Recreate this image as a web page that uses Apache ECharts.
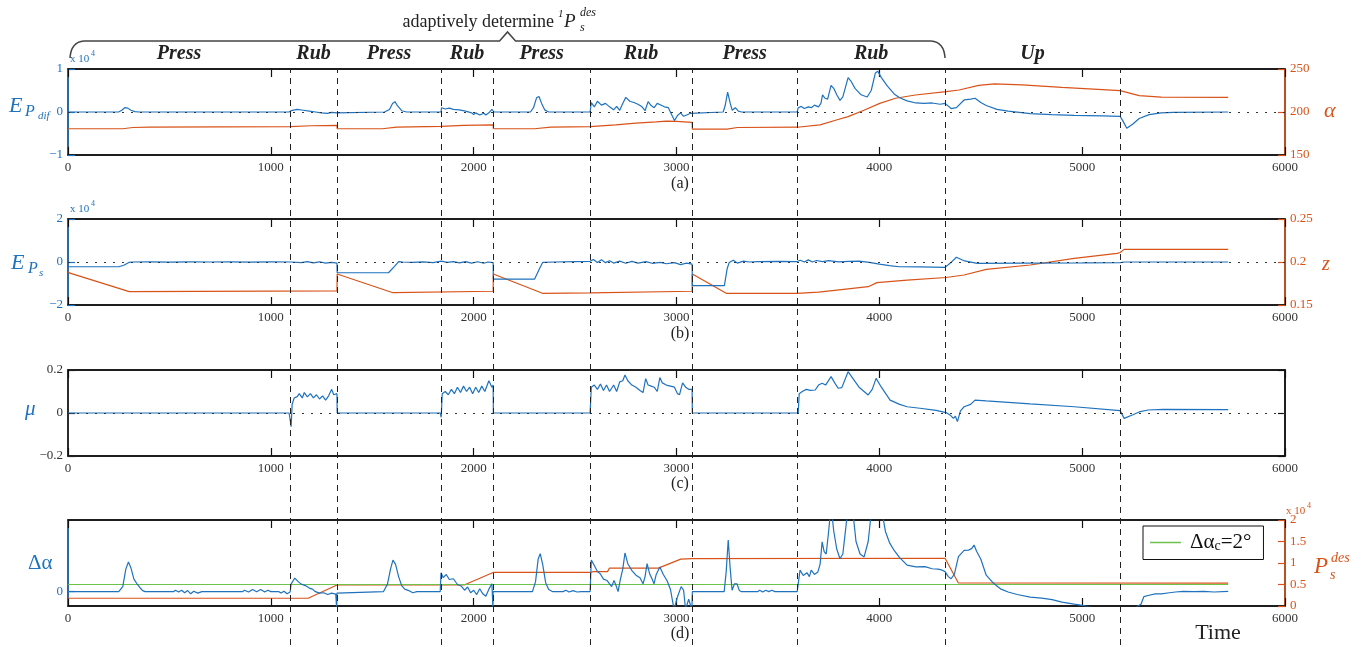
<!DOCTYPE html>
<html>
<head>
<meta charset="utf-8">
<title>Press / Rub / Up</title>
<script src="https://cdn.jsdelivr.net/npm/echarts@6/dist/echarts.min.js"></script>
<style>
  html, body { margin: 0; padding: 0; background: #fff; }
  #main { width: 1366px; height: 647px; }
</style>
</head>
<body>
<div id="main"></div>
<script>
var BLUE = '#1F72BD', ORANGE = '#D95319', GREEN = '#6CC24A';
var SERIF = '"Liberation Serif", "Times New Roman", serif';

// phase boundaries (time) and names
var boundaries = [1095, 1326, 1839, 2096, 2574, 3077, 3595, 4324, 5187];
var phases = ['Press', 'Rub', 'Press', 'Rub', 'Press', 'Rub', 'Press', 'Rub', 'Up'];

// (a) E_Pdif (x10^4) and alpha
var ePdif = [[0,0],[250,0],[265,0.04],[280,0.1],[295,0.09],[310,0.04],[330,0.01],[350,0],[1090,0],[1100,0.03],[1130,0.06],[1160,0.04],[1190,0.02],[1220,0],[1250,-0.02],[1280,-0.03],[1300,-0.01],[1326,-0.02],[1330,0],[1560,0],[1585,0.06],[1600,0.2],[1612,0.24],[1625,0.14],[1645,0.03],[1670,0],[1839,0],[1842,0.1],[1860,0.07],[1880,0.09],[1900,0.06],[1930,0.05],[1960,0.02],[1990,-0.02],[2000,-0.06],[2010,-0.02],[2030,-0.07],[2050,-0.03],[2060,-0.07],[2075,-0.02],[2090,0.06],[2096,0.04],[2100,0],[2280,0],[2295,0.1],[2310,0.33],[2322,0.36],[2335,0.2],[2350,0.05],[2370,0],[2574,0],[2580,0.22],[2595,0.12],[2610,0.25],[2630,0.16],[2650,0.2],[2670,0.12],[2690,0.05],[2705,0.13],[2720,0.04],[2735,0.2],[2750,0.34],[2770,0.25],[2790,0.22],[2810,0.18],[2830,0.12],[2845,0.03],[2860,0.24],[2875,0.15],[2890,0.1],[2905,0.2],[2920,0.17],[2940,0.12],[2960,0.1],[2975,-0.05],[2990,-0.2],[3005,-0.08],[3020,-0.02],[3035,-0.1],[3050,-0.07],[3070,-0.03],[3077,0],[3230,0],[3240,0.15],[3252,0.46],[3265,0.2],[3275,0.04],[3290,0.1],[3305,0.02],[3320,0],[3595,0],[3600,0.1],[3615,0.13],[3630,0.08],[3650,0.12],[3665,0.1],[3680,0.16],[3700,0.12],[3712,0.2],[3720,0.4],[3732,0.32],[3745,0.3],[3762,0.62],[3775,0.55],[3790,0.4],[3806,0.27],[3820,0.35],[3846,0.8],[3860,0.72],[3880,0.55],[3910,0.4],[3940,0.35],[3960,0.5],[3980,0.9],[3992,0.95],[4010,0.8],[4040,0.6],[4073,0.42],[4100,0.33],[4137,0.26],[4180,0.21],[4220,0.2],[4260,0.21],[4300,0.18],[4324,0.2],[4354,0.08],[4380,0.1],[4418,0.28],[4450,0.3],[4472,0.32],[4500,0.22],[4527,0.15],[4580,0.06],[4635,0.02],[4744,-0.04],[4850,-0.06],[4961,-0.08],[5100,-0.09],[5187,-0.1],[5200,-0.2],[5220,-0.38],[5250,-0.28],[5281,-0.15],[5330,-0.06],[5390,-0.02],[5450,-0.01],[5720,0]];
var alpha = [[0,180.5],[270,180.5],[320,182],[400,182.5],[1095,183],[1200,184],[1326,184.5],[1327,180.5],[1550,180.5],[1620,182.5],[1839,183.2],[1950,184.5],[2096,185],[2097,180.5],[2300,180.5],[2380,182.5],[2574,183],[2700,185],[2800,187],[2900,188.5],[2950,189.5],[3000,189],[3077,188],[3078,180],[3250,180],[3300,182],[3595,182.3],[3708,185],[3788,190.7],[3846,194.6],[3924,202],[4002,210],[4080,216],[4178,219.8],[4329,223.6],[4393,225.6],[4490,231],[4567,232.6],[4704,231.5],[4900,228.7],[5100,226],[5187,224.8],[5281,219],[5390,217.4],[5720,217]];

// (b) E_Ps (x10^4) and z
var ePs = [[0,-0.22],[250,-0.22],[275,-0.15],[300,-0.02],[320,0],[400,0.01],[500,-0.01],[600,0.01],[700,0],[800,0.01],[900,-0.01],[1000,0.01],[1100,0],[1150,-0.03],[1180,0.02],[1210,-0.04],[1240,0.01],[1270,-0.05],[1300,-0.02],[1326,-0.05],[1327,-0.5],[1580,-0.5],[1610,-0.2],[1630,0.02],[1650,0],[1700,-0.02],[1750,0.01],[1800,-0.03],[1840,0.04],[1870,-0.02],[1900,0.02],[1930,-0.04],[1960,0.02],[1990,-0.05],[2020,0.01],[2050,-0.06],[2070,0],[2096,-0.03],[2097,-0.8],[2300,-0.8],[2325,-0.3],[2340,-0.02],[2400,0],[2500,0.02],[2574,0.03],[2590,0.12],[2610,-0.02],[2630,0.1],[2650,-0.03],[2670,0.06],[2690,-0.05],[2720,0.04],[2750,-0.06],[2780,0.03],[2810,-0.05],[2850,0.02],[2880,-0.06],[2920,-0.02],[2950,-0.08],[2990,-0.03],[3020,-0.12],[3050,-0.05],[3077,-0.1],[3078,-1.1],[3236,-1.1],[3250,-0.3],[3260,-0.02],[3280,0.08],[3300,-0.05],[3330,0.04],[3360,0],[3400,0.02],[3500,0.03],[3595,0.02],[3610,0.08],[3630,0],[3650,0.1],[3670,0],[3690,0.07],[3720,0.02],[3750,0.06],[3800,0.01],[3850,0.03],[3900,0.04],[3950,-0.02],[4000,-0.1],[4050,-0.17],[4098,-0.22],[4200,-0.23],[4324,-0.25],[4350,-0.05],[4380,0.22],[4420,0.05],[4483,-0.06],[4700,-0.05],[5000,-0.04],[5187,-0.03],[5210,0],[5720,0]];
var zPos = [[0,0.1887],[10,0.187],[302,0.1655],[1326,0.1665],[1327,0.186],[1602,0.1643],[2096,0.166],[2097,0.186],[2339,0.1636],[2574,0.164],[3077,0.166],[3078,0.186],[3245,0.1636],[3595,0.1636],[3700,0.165],[3791,0.1674],[3945,0.1713],[3988,0.176],[4137,0.179],[4329,0.182],[4418,0.1849],[4527,0.1915],[4744,0.1965],[4961,0.2043],[5173,0.21],[5187,0.211],[5207,0.2147],[5720,0.2147]];

// (c) mu
var mu = [[0,0],[1090,0],[1095,-0.03],[1100,-0.064],[1105,0.04],[1115,0.07],[1130,0.076],[1140,0.09],[1155,0.07],[1165,0.095],[1180,0.075],[1195,0.09],[1210,0.07],[1225,0.085],[1240,0.065],[1255,0.08],[1270,0.06],[1285,0.08],[1300,0.11],[1310,0.085],[1326,0.09],[1327,0],[1835,0],[1840,-0.02],[1845,0.09],[1860,0.1],[1875,0.085],[1890,0.11],[1905,0.09],[1920,0.12],[1935,0.095],[1950,0.125],[1965,0.1],[1980,0.12],[1995,0.09],[2010,0.12],[2025,0.095],[2040,0.125],[2055,0.1],[2075,0.15],[2090,0.12],[2096,0.13],[2097,0],[2574,0],[2580,0.12],[2595,0.13],[2610,0.11],[2625,0.135],[2640,0.105],[2655,0.13],[2670,0.1],[2690,0.13],[2705,0.1],[2720,0.145],[2735,0.15],[2746,0.177],[2760,0.15],[2780,0.13],[2800,0.12],[2820,0.105],[2835,0.095],[2848,0.16],[2860,0.13],[2875,0.125],[2890,0.12],[2905,0.1],[2918,0.165],[2930,0.14],[2950,0.13],[2970,0.125],[2990,0.12],[3005,0.09],[3015,0.085],[3030,0.14],[3045,0.12],[3060,0.11],[3077,0.11],[3078,0],[3600,0],[3605,0.09],[3620,0.1],[3640,0.11],[3660,0.105],[3684,0.107],[3700,0.13],[3718,0.138],[3735,0.13],[3762,0.169],[3780,0.14],[3797,0.115],[3815,0.118],[3846,0.192],[3870,0.16],[3900,0.12],[3945,0.084],[3965,0.11],[3984,0.161],[4010,0.12],[4053,0.06],[4100,0.04],[4137,0.029],[4200,0.022],[4280,0.012],[4329,0.002],[4350,-0.01],[4365,-0.025],[4375,-0.015],[4385,-0.04],[4400,0.01],[4418,0.029],[4450,0.04],[4472,0.06],[4527,0.056],[4744,0.042],[4961,0.029],[5187,0.011],[5207,-0.025],[5250,-0.008],[5281,0.005],[5325,0.014],[5400,0.017],[5720,0.016]];

// (d) delta alpha (deg), threshold, and P_s^des (x10^4)
var dAlpha = [[0,0],[250,0],[270,1.4],[285,6.3],[298,8.3],[310,6.7],[325,3.5],[340,2.2],[355,1.1],[368,0.3],[380,0],[520,0],[530,0.4],[545,-0.1],[560,0.4],[575,-0.3],[590,0.3],[605,-0.6],[620,0.1],[640,-0.4],[660,0],[860,0],[870,0.4],[890,-0.1],[910,0.6],[930,0],[950,0.6],[970,-0.1],[985,0.4],[1000,0],[1040,0],[1050,-0.4],[1065,0.1],[1080,-0.6],[1095,-0.1],[1100,2.1],[1118,3.8],[1135,2.8],[1150,2.1],[1170,1.7],[1190,1],[1205,0.7],[1220,0],[1240,-0.4],[1260,-0.3],[1280,-0.8],[1300,-0.4],[1320,-0.7],[1325,-5],[1326,-0.4],[1330,0],[1555,0],[1575,2.1],[1590,6.3],[1602,8.8],[1615,7.6],[1630,4.2],[1645,1.7],[1660,0.7],[1680,0.3],[1700,-0.3],[1720,0],[1835,0],[1839,5.3],[1850,3.9],[1865,4.8],[1880,3.4],[1900,3.6],[1920,2],[1940,1.5],[1955,0.4],[1970,1.3],[1985,-0.3],[2000,0.4],[2015,-0.8],[2030,0.8],[2045,-0.6],[2060,-1.3],[2075,0.7],[2090,2.2],[2095,-5],[2096,0],[2290,0],[2305,2.8],[2318,9.1],[2328,10.6],[2340,7.7],[2355,2.5],[2370,0.6],[2390,0],[2440,0],[2455,0.4],[2470,-0.1],[2490,0.3],[2510,-0.1],[2530,0],[2574,0],[2580,8.8],[2595,7.3],[2610,5.6],[2624,5],[2640,3.5],[2658,3.1],[2680,1.4],[2692,3.1],[2702,1.7],[2712,0],[2722,3.1],[2735,6.3],[2746,10.8],[2760,7.8],[2780,5.9],[2800,4.6],[2820,3.9],[2835,2.2],[2845,4.2],[2855,7.8],[2868,4.9],[2880,3.5],[2889,2.2],[2900,4.8],[2918,6.9],[2935,4.8],[2953,3.1],[2970,0.7],[2988,-5],[3005,-1.4],[3023,1.4],[3035,0.4],[3045,-5],[3060,-2.1],[3076,-5],[3078,0],[3235,0],[3245,5.6],[3255,14.4],[3264,7],[3274,0.4],[3286,2.2],[3298,2.2],[3310,0.3],[3320,0],[3400,0],[3410,0.4],[3425,-0.1],[3440,0.4],[3455,0],[3470,0.4],[3485,0],[3595,0],[3609,6],[3625,4.5],[3643,5.3],[3655,4.2],[3664,6],[3680,4.8],[3697,5.5],[3708,7.7],[3718,13.9],[3728,11.2],[3738,10.5],[3750,16.8],[3762,24],[3775,17],[3790,11.9],[3806,9.2],[3820,10.5],[3835,18],[3846,24],[3860,25],[3870,22],[3885,14],[3905,10.5],[3925,9.7],[3945,14],[3964,24],[3985,26],[4008,24],[4030,16.8],[4050,13.7],[4073,11.5],[4100,9.5],[4137,7.4],[4180,6.9],[4225,7],[4260,6.4],[4290,6.3],[4310,6],[4324,5.6],[4340,4.2],[4354,3.6],[4370,4.9],[4390,9.8],[4418,11.5],[4440,11.6],[4455,12],[4467,13],[4480,11.2],[4500,9.1],[4527,4.6],[4560,2.5],[4600,0.7],[4635,-0.1],[4680,-0.8],[4744,-1.5],[4800,-1.8],[4852,-2.2],[4900,-2.9],[4961,-3.5],[5000,-3.8],[5050,-4.5],[5260,-4.5],[5290,-3.5],[5304,-1.4],[5330,-1],[5360,-0.6],[5390,-0.6],[5430,-0.3],[5460,-0.1],[5498,0.1],[5550,0],[5600,0.1],[5650,-0.1],[5720,0.1]];
var dAlphaC = [[0,2],[5720,2]];
var psDes = [[0,0.18],[1184,0.18],[1326,0.49],[1953,0.49],[2096,0.78],[2574,0.78],[2590,0.8],[2660,0.8],[2669,0.88],[2911,0.88],[3021,1.09],[3077,1.1],[4324,1.11],[4389,0.54],[5720,0.53]];

var gridTops = [69, 219, 370, 520];
var LEGEND_NAME = '\u0394\u03b1c=2\u00b0';

function minus(v) {
    return String(v).replace('-', '\u2212');
}

function xAx(i, pos) {
    return {
        type: 'value', gridIndex: i, min: 0, max: 6000, interval: 1000, position: pos,
        axisLine: { show: true, onZero: false, lineStyle: { color: '#111', width: 1.5 } },
        axisTick: { show: true, inside: true, length: 8, lineStyle: { color: '#111', width: 1.2 } },
        axisLabel: { show: pos === 'bottom', margin: 6, fontFamily: SERIF, fontSize: 13, color: '#333',
            formatter: function (v) { return String(v); } },
        splitLine: { show: false }
    };
}

function yAx(i, pos, min, max, interval, color, showLabel) {
    return {
        type: 'value', gridIndex: i, position: pos, min: min, max: max, interval: interval,
        axisLine: { show: true, onZero: false, lineStyle: { color: color, width: 1.5 } },
        axisTick: { show: true, inside: true, length: 7, lineStyle: { color: color, width: 1.2 } },
        axisLabel: { show: showLabel, margin: 5, fontFamily: SERIF, fontSize: 13, color: color, formatter: minus },
        splitLine: { show: false }
    };
}

var zeroLine = {
    silent: true, symbol: ['none', 'none'], label: { show: false },
    lineStyle: { color: '#333', type: [2, 7], width: 1 },
    data: [{ yAxis: 0 }]
};

var grids = gridTops.map(function (t) {
    return { left: 68, right: 81, top: t, height: 86, show: true, borderColor: '#111', borderWidth: 1.5 };
});
grids.push({ left: 68, right: 81, top: 69, bottom: 2 });

var xAxes = [0, 1, 2, 3].map(function (i) { return xAx(i, 'bottom'); })
    .concat([0, 1, 2, 3].map(function (i) { return xAx(i, 'top'); }));
xAxes.push({ type: 'value', gridIndex: 4, min: 0, max: 6000, show: false });

var dLeft = yAx(3, 'left', -4, 20, null, BLUE, true);
delete dLeft.interval;
dLeft.axisLabel.customValues = [0];
dLeft.axisTick.customValues = [0];

var yAxes = [
    yAx(0, 'left', -1, 1, 1, BLUE, true),
    yAx(1, 'left', -2, 2, 2, BLUE, true),
    yAx(2, 'left', -0.2, 0.2, 0.2, '#222', true),
    dLeft,
    yAx(0, 'right', 150, 250, 50, ORANGE, true),
    yAx(1, 'right', 0.15, 0.25, 0.05, ORANGE, true),
    yAx(2, 'right', -0.2, 0.2, 0.2, '#111', false),
    yAx(3, 'right', 0, 2, 0.5, ORANGE, true),
    { type: 'value', gridIndex: 4, min: 0, max: 1, show: false }
];
yAxes[2].axisLabel.color = '#333';

function line(name, data, xi, yi, color, extra) {
    var s = {
        name: name, type: 'line', data: data, xAxisIndex: xi, yAxisIndex: yi,
        symbol: 'none', showSymbol: false, clip: true,
        lineStyle: { color: color, width: 1.2 }, itemStyle: { color: color }, z: 3
    };
    for (var k in extra) s[k] = extra[k];
    return s;
}

var starts = [0].concat(boundaries.slice(0, boundaries.length - 1));
var phaseAreas = phases.map(function (p, i) {
    return [{ xAxis: starts[i], name: p }, { xAxis: boundaries[i] }];
});

var series = [
    line('ePdif', ePdif, 0, 0, BLUE, { markLine: zeroLine, z: 4 }),
    line('alpha', alpha, 0, 4, ORANGE),
    line('ePs', ePs, 1, 1, BLUE, { markLine: zeroLine, z: 4 }),
    line('z', zPos, 1, 5, ORANGE),
    line('mu', mu, 2, 2, BLUE, { markLine: zeroLine }),
    line('psDes', psDes, 3, 7, ORANGE),
    line(LEGEND_NAME, dAlphaC, 3, 3, GREEN),
    line('dAlpha', dAlpha, 3, 3, BLUE, { z: 4 }),
    {
        type: 'line', xAxisIndex: 8, yAxisIndex: 8, data: [[0, 0], [0, 0]],
        symbol: 'none', lineStyle: { width: 0 }, silent: true,
        markLine: {
            silent: true, symbol: ['none', 'none'], label: { show: false },
            lineStyle: { color: '#222', type: [6, 5], width: 1 },
            data: boundaries.map(function (b) { return { xAxis: b }; })
        },
        markArea: {
            silent: true,
            itemStyle: { color: 'rgba(0,0,0,0)' },
            label: {
                show: true, position: 'top', distance: 5, color: '#222',
                fontFamily: SERIF, fontStyle: 'italic', fontWeight: 'bold', fontSize: 20
            },
            data: phaseAreas
        }
    }
];

function txt(id, x, y, s, size, color, italic, extra) {
    var st = {
        text: s, x: 0, y: 0, fill: color, fontFamily: SERIF, fontSize: size,
        fontStyle: italic ? 'italic' : 'normal',
        align: 'left', verticalAlign: 'middle', textAlign: 'left', textVerticalAlign: 'middle'
    };
    for (var k in extra) st[k] = extra[k];
    return { type: 'text', id: id, x: x, y: y, style: st, z: 100 };
}

var texts = [
    txt('ea', 9, 106, 'E', 22, BLUE, true),
    txt('pa', 25, 112, 'P', 16, BLUE, true),
    txt('difa', 38, 116, 'dif', 11, BLUE, true),
    txt('xa', 70, 59, 'x 10', 11, BLUE, false),
    txt('xa4', 91, 54, '4', 8, BLUE, false),
    txt('eb', 11, 263, 'E', 22, BLUE, true),
    txt('pb', 28, 269, 'P', 16, BLUE, true),
    txt('sb', 39, 273, 's', 11, BLUE, true),
    txt('xb', 70, 209, 'x 10', 11, BLUE, false),
    txt('xb4', 91, 204, '4', 8, BLUE, false),
    txt('mu', 25, 409, '\u03bc', 21, BLUE, true),
    txt('da', 28, 563, '\u0394\u03b1', 21, BLUE, false),
    txt('al', 1324, 111, '\u03b1', 22, ORANGE, true),
    txt('zz', 1322, 265, 'z', 20, ORANGE, true),
    txt('pd', 1314, 567, 'P', 23, ORANGE, true),
    txt('desd', 1331, 558, 'des', 14, ORANGE, true),
    txt('sd', 1330, 575, 's', 14, ORANGE, true),
    txt('xd', 1286, 511, 'x 10', 11, ORANGE, false),
    txt('xd4', 1307, 506, '4', 8, ORANGE, false),
    txt('la', 680, 184, '(a)', 16, '#222', false, { align: 'center', textAlign: 'center' }),
    txt('lb', 680, 334, '(b)', 16, '#222', false, { align: 'center', textAlign: 'center' }),
    txt('lc', 680, 484, '(c)', 16, '#222', false, { align: 'center', textAlign: 'center' }),
    txt('ld', 680, 634, '(d)', 16, '#222', false, { align: 'center', textAlign: 'center' }),
    txt('time', 1218, 633, 'Time', 22, '#222', false, { align: 'center', textAlign: 'center' })
];

var option = {
    animation: false,
    backgroundColor: '#fff',
    grid: grids,
    xAxis: xAxes,
    yAxis: yAxes,
    legend: {
        data: [{ name: LEGEND_NAME, icon: 'rect' }],
        left: 1143, top: 526,
        itemWidth: 31, itemHeight: 1.5,
        padding: [6, 12, 6, 7],
        borderColor: '#111', borderWidth: 1, backgroundColor: '#fff',
        formatter: function () { return '{a|\u0394\u03b1}{s|c}{b|=2\u00b0}'; },
        textStyle: {
            fontFamily: SERIF, color: '#111',
            rich: {
                a: { fontFamily: SERIF, fontSize: 21, color: '#111', padding: [0, 0, 0, 4] },
                b: { fontFamily: SERIF, fontSize: 21, color: '#111' },
                s: { fontFamily: SERIF, fontSize: 14, color: '#111', verticalAlign: 'bottom', padding: [8, 0, 0, 0] }
            }
        }
    },
    series: series,
    graphic: texts
};

var myChart = echarts.init(document.getElementById('main'));
myChart.setOption(option);

// bracket over the adaptive part (from 0 to the end of the last Rub)
var bx0 = myChart.convertToPixel({ xAxisIndex: 8 }, 0) + 2;
var bx1 = myChart.convertToPixel({ xAxisIndex: 8 }, boundaries[7]);
var bm = (bx0 + bx1) / 2;
var bracketStyle = { fill: null, stroke: '#444', lineWidth: 1.5 };
myChart.setOption({
    graphic: [
        {
            type: 'polyline', id: 'bracketMid', z: 100, style: bracketStyle,
            shape: { points: [[bx0 + 14, 41], [bm - 8, 41], [bm, 32], [bm + 8, 41], [bx1 - 14, 41]] }
        },
        {
            type: 'bezierCurve', id: 'bracketL', z: 100, style: bracketStyle,
            shape: { x1: bx0, y1: 58, cpx1: bx0 + 1, cpy1: 42, x2: bx0 + 14, y2: 41 }
        },
        {
            type: 'bezierCurve', id: 'bracketR', z: 100, style: bracketStyle,
            shape: { x1: bx1 - 14, y1: 41, cpx1: bx1 - 1, cpy1: 42, x2: bx1, y2: 58 }
        },
        txt('adapt', 554, 22, 'adaptively determine', 18, '#222', false, { align: 'right', textAlign: 'right' }),
        txt('one', 558, 14, '1', 11, '#222', true),
        txt('pdes', 564, 22, 'P', 19, '#222', true),
        txt('des1', 580, 13, 'des', 12, '#222', true),
        txt('s1', 580, 28, 's', 12, '#222', true)
    ]
});
</script>
</body>
</html>
